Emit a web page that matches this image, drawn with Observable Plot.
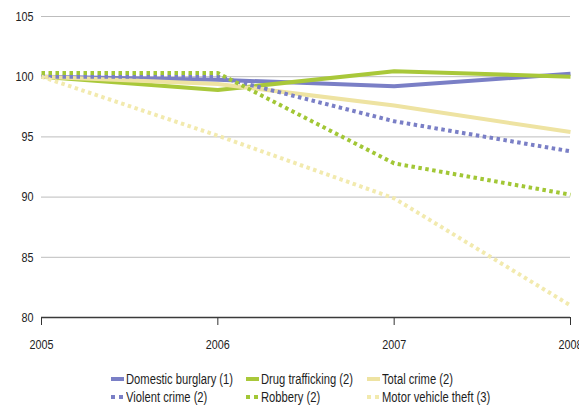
<!DOCTYPE html>
<html>
<head>
<meta charset="utf-8">
<script src="https://cdn.jsdelivr.net/npm/d3@7"></script>
<script src="https://cdn.jsdelivr.net/npm/@observablehq/plot@0.6"></script>
<style>
  html, body { margin: 0; padding: 0; background: #fff; }
  #wrap { position: relative; width: 579px; height: 416px; font-family: "Liberation Sans", Arial, sans-serif; }
  .leg { position: absolute; font-size: 14px; color: #1e1e1e; white-space: nowrap; line-height: 16px; transform: scaleX(0.8); transform-origin: 0 50%; }
  .sw { position: absolute; }
</style>
</head>
<body>
<div id="wrap"></div>
<script>
// Index, 2005 = 100
const years = [2005, 2006, 2007, 2008];
const domesticBurglary = [100, 99.75, 99.2, 100.25];
const drugTrafficking  = [100, 98.9, 100.45, 100.0];
const totalCrime       = [100, 99.4, 97.6, 95.4];
const violentCrime     = [100, 100.0, 96.3, 93.8];
const robbery          = [100.3, 100.3, 92.8, 90.2];
const motorVehicleTheft = [100, 95.1, 89.9, 81.0];

const seriesNames = [
  "Domestic burglary (1)", "Drug trafficking (2)", "Total crime (2)",
  "Violent crime (2)", "Robbery (2)", "Motor vehicle theft (3)"
];
const seriesValues = [domesticBurglary, drugTrafficking, totalCrime, violentCrime, robbery, motorVehicleTheft];
const seriesColors = ["#7a7fc6", "#a9c83a", "#eee3a2", "#7a7fc6", "#a2c736", "#f2eaae"];
const seriesDotted = [false, false, false, true, true, true];
const yTicks = [80, 85, 90, 95, 100, 105];

const rows = seriesNames.flatMap((name, i) =>
  years.map((year, j) => ({series: name, year, value: seriesValues[i][j]}))
);

const lineMarks = seriesNames.map((name, i) =>
  Plot.line(rows.filter(d => d.series === name), {
    x: "year", y: "value",
    stroke: seriesColors[i],
    strokeWidth: 4,
    strokeDasharray: seriesDotted[i] ? "3.5,3.5" : null,
    strokeLinecap: "butt"
  })
);

const chart = Plot.plot({
  width: 579,
  height: 360,
  marginTop: 16,
  marginBottom: 43,
  marginLeft: 41,
  marginRight: 9,
  style: {fontFamily: "'Liberation Sans', Arial, sans-serif", fontSize: "13.5px", color: "#222", background: "#fff", overflow: "visible"},
  x: {domain: [2005, 2008]},
  y: {domain: [80, 105]},
  marks: [
    Plot.ruleY(yTicks.filter(t => t > 80), {y: d => d, stroke: "#bdbdbd", strokeWidth: 1}),
    Plot.axisY({ticks: yTicks, tickSize: 0, tickPadding: 8, tickFormat: d => d, label: null, fill: "#222"}),
    Plot.axisX({ticks: years, tickFormat: d => String(d), tickSize: 8, tickPadding: 14, label: null, stroke: "#333", fill: "#222"}),
    ...lineMarks,
    Plot.ruleY([80], {stroke: "#3a3a3a", strokeWidth: 1.5})
  ]
});

// Condense the tick labels horizontally around their anchor points
d3.select(chart).selectAll("g[aria-label$='tick label'] text").each(function() {
  const t = this.getAttribute("transform") || "";
  this.setAttribute("transform", t + " scale(0.8,1)");
});

const wrap = document.getElementById("wrap");
wrap.appendChild(chart);

// Legend below the chart: three columns, two rows
const legendCols = [111, 246, 367];
const legendRows = [371, 389];
seriesNames.forEach((name, i) => {
  const col = legendCols[i % 3];
  const top = legendRows[Math.floor(i / 3)];
  const sw = document.createElement("div");
  sw.className = "sw";
  sw.style.left = col + "px";
  sw.style.top = (top + 6) + "px";
  sw.style.width = "13px";
  sw.style.height = "4px";
  if (seriesDotted[i]) {
    sw.style.background = `repeating-linear-gradient(90deg, ${seriesColors[i]} 0 4px, transparent 4px 8px)`;
  } else {
    sw.style.background = seriesColors[i];
  }
  wrap.appendChild(sw);
  const t = document.createElement("div");
  t.className = "leg";
  t.style.left = (col + 15) + "px";
  t.style.top = top + "px";
  t.textContent = name;
  wrap.appendChild(t);
});
</script>
</body>
</html>
